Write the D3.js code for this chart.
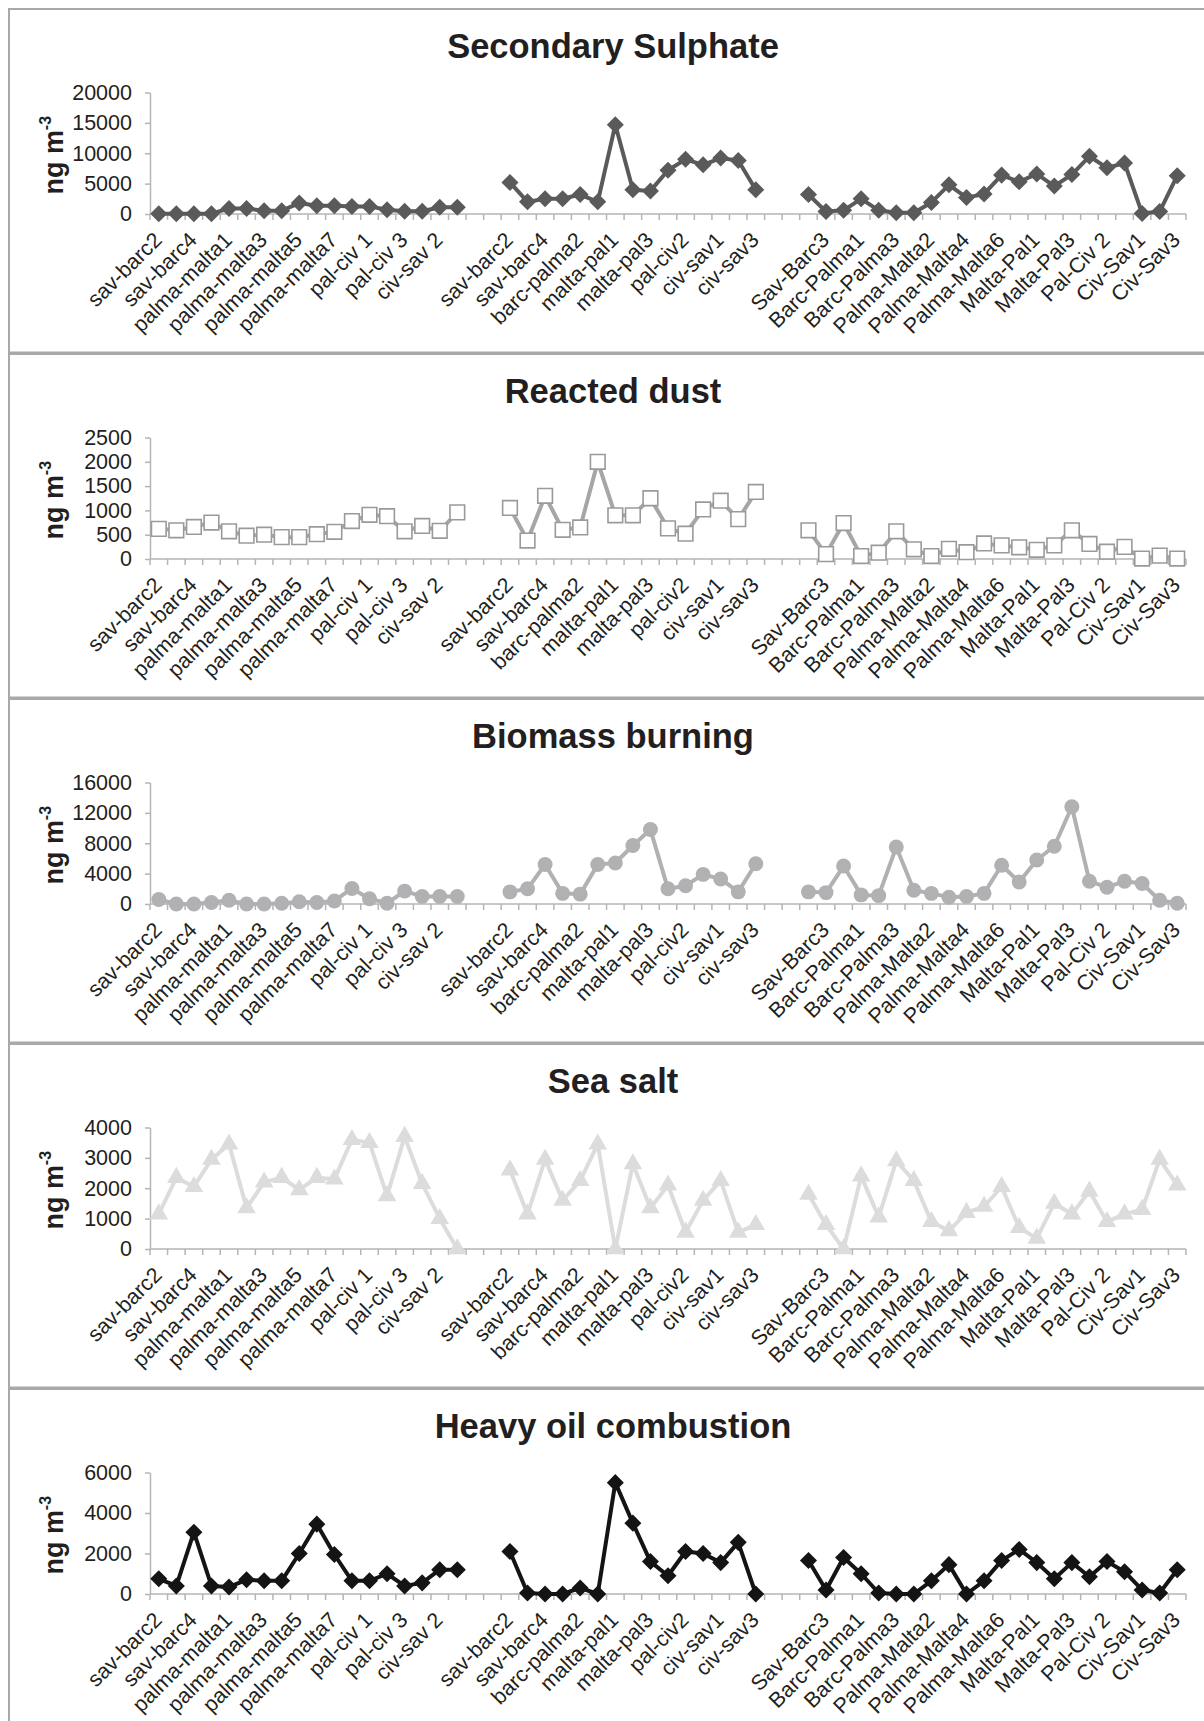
<!DOCTYPE html>
<html>
<head>
<meta charset="utf-8">
<script src="https://cdn.jsdelivr.net/npm/d3@7"></script>
<style>
  html, body { margin: 0; padding: 0; background: #fff; }
  svg { display: block; }
  text { font-family: "Liberation Sans", Arial, sans-serif; fill: #231f20; }
</style>
</head>
<body>
<svg id="chart" width="1204" height="1721"></svg>
<script>
// Sampling routes, three campaigns separated by two blank slots each
const categories = [
  "sav-barc2", "sav-barc3", "sav-barc4", "barc-palma1", "palma-malta1", "palma-malta2",
  "palma-malta3", "palma-malta4", "palma-malta5", "palma-malta6", "palma-malta7", "malta-pal 1",
  "pal-civ 1", "pal-civ 2", "pal-civ 3", "civ-sav 1", "civ-sav 2", "civ-sav 3",
  "", "",
  "sav-barc2", "sav-barc3", "sav-barc4", "barc-palma1", "barc-palma2", "palma-malta1",
  "malta-pal1", "malta-pal2", "malta-pal3", "pal-civ1", "pal-civ2", "pal-civ3",
  "civ-sav1", "civ-sav2", "civ-sav3",
  "", "",
  "Sav-Barc2", "Sav-Barc3", "Sav-Barc4", "Barc-Palma1", "Barc-Palma2", "Barc-Palma3",
  "Palma-Malta1", "Palma-Malta2", "Palma-Malta3", "Palma-Malta4", "Palma-Malta5", "Palma-Malta6",
  "Palma-Malta7", "Malta-Pal1", "Malta-Pal2", "Malta-Pal3", "Pal-Civ 1", "Pal-Civ 2",
  "Pal-Civ 3", "Civ-Sav1", "Civ-Sav2", "Civ-Sav3"
];

// Source contributions, ng m-3 (null = no sample)
const secondarySulphate = [
  50, 50, 50, 50, 900, 900, 550, 550, 1800, 1350, 1350, 1250, 1250, 700, 450, 450, 1100, 1100,
  null, null,
  5200, 2000, 2500, 2500, 3200, 2000, 14700, 4000, 3800, 7200, 9000, 8100, 9200, 8800, 4000,
  null, null,
  3200, 400, 600, 2500, 600, 200, 200, 1900, 4800, 2700, 3300, 6400, 5300, 6600, 4600, 6500,
  9500, 7600, 8400, 100, 400, 6300
];
const reactedDust = [
  620, 590, 660, 750, 570, 480, 500, 450, 450, 510, 560, 780, 910, 880, 570, 680, 580, 960,
  null, null,
  1050, 380, 1300, 600, 650, 2000, 900, 900, 1250, 630, 520, 1020, 1200, 820, 1380,
  null, null,
  590, 100, 740, 60, 130, 570, 200, 60, 210, 140, 320, 280, 240, 190, 280, 590,
  310, 150, 250, 10, 70, 10
];
const biomassBurning = [
  600, 0, 0, 200, 500, 0, 0, 100, 300, 200, 400, 2050, 700, 100, 1700, 1000, 1000, 1000,
  null, null,
  1600, 2000, 5200, 1400, 1300, 5200, 5400, 7700, 9800, 2000, 2400, 3900, 3300, 1600, 5300,
  null, null,
  1600, 1500, 5000, 1200, 1100, 7500, 1800, 1400, 900, 1000, 1400, 5100, 2900, 5800, 7600, 12800,
  3000, 2200, 3000, 2700, 500, 100
];
const seaSalt = [
  1150, 2350, 2050, 2950, 3450, 1350, 2200, 2350, 1950, 2350, 2300, 3600, 3500, 1750, 3700, 2150, 1000, 0,
  null, null,
  2600, 1150, 2950, 1600, 2250, 3450, 0, 2800, 1350, 2100, 550, 1600, 2250, 550, 800,
  null, null,
  1800, 800, 0, 2400, 1050, 2900, 2250, 900, 600, 1200, 1400, 2050, 700, 350, 1500, 1150,
  1900, 900, 1150, 1300, 2950, 2100
];
const heavyOilCombustion = [
  750, 400, 3050, 400, 350, 700, 650, 650, 2000, 3450, 1950, 650, 650, 1000, 400, 550, 1200, 1200,
  null, null,
  2100, 50, 0, 0, 300, 0, 5500, 3500, 1600, 900, 2100, 2000, 1550, 2550, 0,
  null, null,
  1650, 200, 1800, 1000, 50, 0, 0, 650, 1450, 0, 650, 1650, 2200, 1550, 750, 1550,
  850, 1600, 1100, 200, 50, 1200
];

// Panel titles and y-axis tick values
const panelTitles = ["Secondary Sulphate", "Reacted dust", "Biomass burning", "Sea salt", "Heavy oil combustion"];
const sulphateTicks = [0, 5000, 10000, 15000, 20000];
const dustTicks = [0, 500, 1000, 1500, 2000, 2500];
const biomassTicks = [0, 4000, 8000, 12000, 16000];
const seaSaltTicks = [0, 1000, 2000, 3000, 4000];
const heavyOilTicks = [0, 2000, 4000, 6000];

// ---- layout ----
const svg = d3.select("#chart");
const panelTop0 = 9, panelPitch = 345, panelH = 343.5;
const plotX0 = 150, plotX1 = 1186;
const plotTop = 83.5, plotBottom = 205;
const titleX = 613;
const fontStack = '"Liberation Sans", Arial, sans-serif';

const x = d3.scaleBand()
  .domain(d3.range(categories.length))
  .range([plotX0, plotX1])
  .padding(0);
const cx = i => x(i) + x.bandwidth() / 2;

const panels = [
  { title: panelTitles[0], values: secondarySulphate, ticks: sulphateTicks,
    color: "#5a5a5a", marker: "diamond", fill: "#5a5a5a", stroke: "none" },
  { title: panelTitles[1], values: reactedDust, ticks: dustTicks,
    color: "#a6a6a6", marker: "square", fill: "#ffffff", stroke: "#9a9a9a" },
  { title: panelTitles[2], values: biomassBurning, ticks: biomassTicks,
    color: "#b1b1b4", marker: "circle", fill: "#b1b1b4", stroke: "none" },
  { title: panelTitles[3], values: seaSalt, ticks: seaSaltTicks,
    color: "#dcdcdc", marker: "triangle", fill: "#dcdcdc", stroke: "none" },
  { title: panelTitles[4], values: heavyOilCombustion, ticks: heavyOilTicks,
    color: "#141414", marker: "diamond", fill: "#141414", stroke: "none" }
];

const symbolFor = {
  diamond: d3.symbol(d3.symbolSquare, 145)(),
  square: d3.symbol(d3.symbolSquare, 215)(),
  circle: d3.symbol(d3.symbolCircle, 175)(),
  triangle: d3.symbol(d3.symbolTriangle, 150)()
};

panels.forEach((p, k) => {
  const top = panelTop0 + k * panelPitch;
  const g = svg.append("g").attr("transform", `translate(0,${top})`);

  // frame
  g.append("rect")
    .attr("x", 9).attr("y", 0)
    .attr("width", 1220).attr("height", panelH)
    .attr("fill", "#fff")
    .attr("stroke", "#a9a9a9").attr("stroke-width", 2);

  // title
  g.append("text")
    .attr("x", titleX).attr("y", 49)
    .attr("text-anchor", "middle")
    .attr("font-size", 34.5).attr("font-weight", "bold")
    .text(p.title);

  const y = d3.scaleLinear()
    .domain([0, d3.max(p.ticks)])
    .range([plotBottom, plotTop]);

  // y axis
  const yAxis = g.append("g")
    .attr("transform", `translate(${plotX0},0)`)
    .call(d3.axisLeft(y).tickValues(p.ticks).tickSize(5).tickSizeOuter(0).tickPadding(13).tickFormat(d3.format("d")));
  yAxis.select(".domain").attr("stroke", "#b5b5b5").attr("stroke-width", 1.5);
  yAxis.selectAll(".tick line").attr("stroke", "#b5b5b5").attr("stroke-width", 1.5);
  yAxis.selectAll(".tick text")
    .attr("font-size", 21.5).attr("fill", "#231f20")
    .style("font-family", fontStack);

  // y title
  const yt = g.append("text")
    .attr("transform", `translate(63,${(plotTop + plotBottom) / 2 + 2}) rotate(-90)`)
    .attr("text-anchor", "middle")
    .attr("font-size", 27).attr("font-weight", "bold");
  yt.append("tspan").text("ng m");
  yt.append("tspan").attr("font-size", 16).attr("dy", "-0.75em").text("-3");

  // x axis: baseline and category boundary ticks
  const y0 = y(0);
  g.append("line")
    .attr("x1", plotX0).attr("x2", plotX1)
    .attr("y1", y0).attr("y2", y0)
    .attr("stroke", "#b5b5b5").attr("stroke-width", 1.5);
  const bounds = d3.range(categories.length + 1).map(i => i < categories.length ? x(i) : x.range()[1]);
  g.append("g").selectAll("line")
    .data(bounds)
    .join("line")
    .attr("x1", d => d).attr("x2", d => d)
    .attr("y1", y0).attr("y2", y0 + 6)
    .attr("stroke", "#b5b5b5").attr("stroke-width", 1.5);

  // category labels, every second slot
  g.append("g").selectAll("text")
    .data(categories.map((c, i) => ({ c, i })).filter(d => d.i % 2 === 0 && d.c))
    .join("text")
    .attr("transform", d => `translate(${cx(d.i) - 1},${y0 + 22}) rotate(-45)`)
    .attr("text-anchor", "end")
    .attr("dy", "0.35em")
    .attr("font-size", 21.5)
    .text(d => d.c);

  // series line (breaks where no sample)
  const line = d3.line()
    .defined(d => d.v != null)
    .x(d => cx(d.i))
    .y(d => y(d.v));
  const pts = p.values.map((v, i) => ({ v, i }));
  g.append("path")
    .datum(pts)
    .attr("d", line)
    .attr("fill", "none")
    .attr("stroke", p.color)
    .attr("stroke-width", 4)
    .attr("stroke-linejoin", "round");

  // markers
  g.append("g").selectAll("path")
    .data(pts.filter(d => d.v != null))
    .join("path")
    .attr("d", symbolFor[p.marker])
    .attr("transform", d => `translate(${cx(d.i)},${y(d.v)})` + (p.marker === "diamond" ? " rotate(45)" : ""))
    .attr("fill", p.fill)
    .attr("stroke", p.stroke)
    .attr("stroke-width", p.stroke === "none" ? 0 : 1.6);
});
</script>
</body>
</html>
